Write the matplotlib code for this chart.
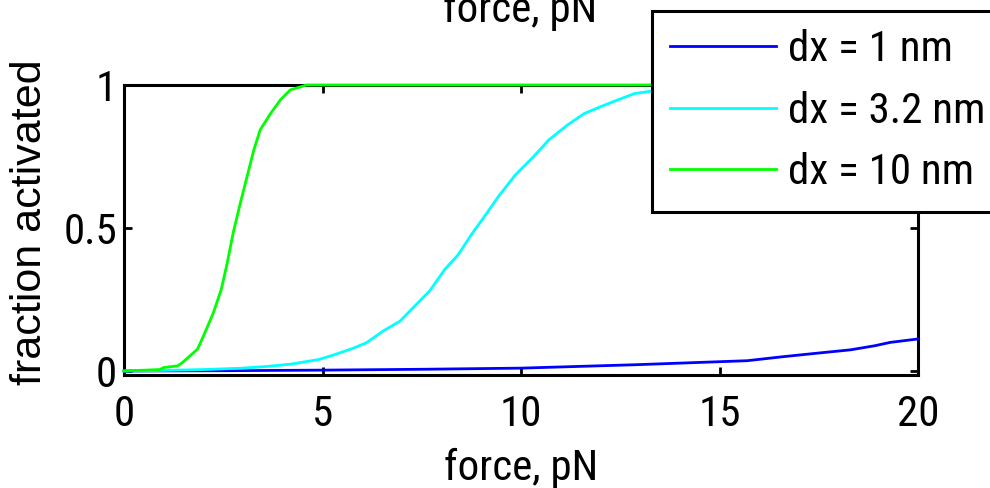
import matplotlib
matplotlib.use("Agg")
import matplotlib.pyplot as plt
from matplotlib import font_manager

# ---- data ----
blue_x = [0, 2.5, 5, 7.5, 10, 12.9, 15.7, 16.6, 17.44, 18.3, 18.9, 19.3, 20]
blue_y = [0, 0.001, 0.003, 0.006, 0.01, 0.022, 0.036, 0.05, 0.062, 0.074, 0.088, 0.1, 0.112]

cyan_x = [0, 1, 2, 3, 3.6, 4.2, 4.9, 5.28, 5.78, 6.11, 6.53, 6.95, 7.28, 7.7, 8.08,
          8.42, 8.75, 9.14, 9.43, 9.86, 10.32, 10.7, 11.17, 11.59, 12.02, 12.44,
          12.86, 13.25, 14, 15, 16, 18, 20]
cyan_y = [0, 0.002, 0.005, 0.01, 0.016, 0.024, 0.04, 0.056, 0.08, 0.099, 0.14, 0.174,
          0.221, 0.28, 0.355, 0.407, 0.477, 0.552, 0.61, 0.686, 0.75, 0.808, 0.86,
          0.9, 0.925, 0.948, 0.97, 0.978, 0.988, 0.995, 0.998, 1.0, 1.0]

green_x = [0, 0.9, 1.0, 1.35, 1.45, 1.85, 2.0, 2.25, 2.45, 2.6, 2.75, 2.93, 3.1, 3.27,
           3.43, 3.69, 3.94, 4.19, 4.6, 5, 10, 15, 20]
green_y = [0, 0.005, 0.012, 0.018, 0.027, 0.076, 0.122, 0.203, 0.285, 0.378, 0.483,
           0.587, 0.68, 0.773, 0.843, 0.90, 0.948, 0.983, 1.0, 1.0, 1.0, 1.0, 1.0]

labels = ["dx = 1 nm", "dx = 3.2 nm", "dx = 10 nm"]
colors = ["#0000ff", "#00ffff", "#00ff00"]
xticks = [0, 5, 10, 15, 20]
xticklabels = ["0", "5", "10", "15", "20"]
yticks = [0, 0.5, 1]
yticklabels = ["0", "0.5", "1"]
xlabel = "force, pN"
ylabel = "fraction activated"

available = {f.name for f in font_manager.fontManager.ttflist}
narrow_found = None
for cand in ["Liberation Sans Narrow", "Roboto Condensed", "DejaVu Sans Condensed",
             "Open Sans Condensed"]:
    if cand in available:
        narrow_found = cand
        break
if narrow_found:
    NARROW = [narrow_found, "DejaVu Sans"]
    FS_N = 31
else:
    NARROW = ["Liberation Sans", "DejaVu Sans"]
    FS_N = 27
WIDE = ["Liberation Sans", "DejaVu Sans"]
FS = 31

fig = plt.figure(figsize=(9.9, 4.88), dpi=100)
ax = fig.add_axes([124/990, 1-375/488, (918-124)/990, (375-85)/488])

for xs, ys, c, lab in zip([blue_x, cyan_x, green_x], [blue_y, cyan_y, green_y], colors, labels):
    ax.plot(xs, ys, color=c, lw=2.0, label=lab, zorder=3, clip_on=False)

ax.set_xlim(0, 20)
ax.set_ylim(-0.014, 1)
ax.set_xticks(xticks)
ax.set_xticklabels(xticklabels, family=NARROW, fontsize=FS_N)
ax.set_yticks(yticks)
ax.set_yticklabels(yticklabels, family=NARROW, fontsize=FS_N)
ax.tick_params(direction="in", length=6, width=2, top=True, right=True, colors="black")
ax.tick_params(axis="x", pad=14)
ax.tick_params(axis="y", pad=5)
for s in ax.spines.values():
    s.set_linewidth(2.2)

ax.set_xlabel(xlabel, family=NARROW, fontsize=FS_N)
ax.xaxis.set_label_coords(0.5, -0.25)
ax.xaxis.label.set_va("top")

fig.text(30/990, 1-222/488, ylabel, rotation=90, ha="center", va="center",
         family=WIDE, fontsize=FS)

# cut-off label of the panel above
fig.text(520/990, 1-22/488, xlabel, ha="center", va="baseline", family=NARROW, fontsize=FS_N)

leg = ax.legend(loc="upper left", bbox_to_anchor=(652/990, 1-11/488),
                bbox_transform=fig.transFigure, prop={"family": NARROW, "size": FS_N},
                fancybox=False, framealpha=1, edgecolor="black",
                borderpad=0.42, handlelength=2.45, handletextpad=0.3,
                labelspacing=0.48, borderaxespad=0)
leg.get_frame().set_linewidth(2.2)
leg.set_zorder(10)

fig.savefig("out.png", dpi=100)
